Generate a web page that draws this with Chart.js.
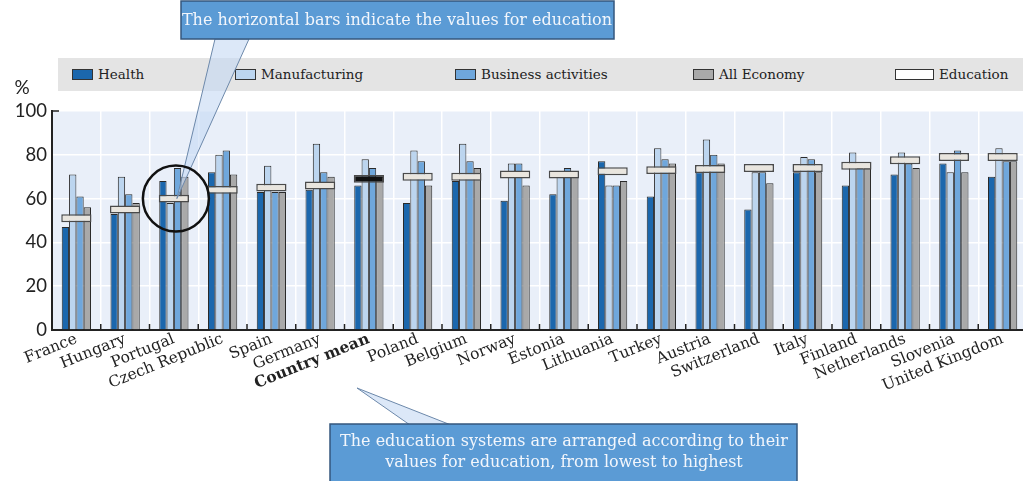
<!DOCTYPE html>
<html>
<head>
<meta charset="utf-8">
<script src="https://cdn.jsdelivr.net/npm/chart.js@4.4.1/dist/chart.umd.min.js"></script>
<style>
  html, body { margin: 0; padding: 0; background: #fff; overflow: hidden; }
  #wrap { position: relative; width: 1027px; height: 481px; }
  #legend { position: absolute; left: 58px; top: 58px; width: 969px; height: 33px; background: #e4e4e4; z-index: 0;
            font-family: "DejaVu Serif", serif; font-size: 13.5px; color: #222; }
  .item { position: absolute; top: 8px; white-space: nowrap; }
  .sw { display: inline-block; width: 19px; height: 9px; border: 1px solid #333; vertical-align: middle;
        margin-right: 5px; position: relative; top: -1px; }
  canvas { position: absolute; left: 0; top: 0; z-index: 1; }
</style>
</head>
<body>
<div id="wrap">
  <div id="legend"></div>
  <canvas id="chart" width="1027" height="481"></canvas>
</div>
<script>
// data, education systems sorted by education value
const categories = ["France", "Hungary", "Portugal", "Czech Republic", "Spain", "Germany", "Country mean",
  "Poland", "Belgium", "Norway", "Estonia", "Lithuania", "Turkey", "Austria", "Switzerland", "Italy",
  "Finland", "Netherlands", "Slovenia", "United Kingdom"];
const health        = [47, 53, 68, 72, 63, 64, 66, 58, 68, 59, 62, 77, 61, 72, 55, 72, 66, 71, 76, 70];
const manufacturing = [71, 70, 58, 80, 75, 85, 78, 82, 85, 76, 70, 66, 83, 87, 72, 79, 81, 81, 72, 83];
const business      = [61, 62, 74, 82, 63, 72, 74, 77, 77, 76, 74, 66, 78, 80, 72, 78, 74, 76, 82, 77];
const allEconomy    = [56, 58, 70, 71, 63, 70, 70, 66, 74, 66, 70, 68, 76, 76, 67, 72, 74, 74, 72, 77];
const education     = [51, 55, 60, 64, 65, 66, 69, 70, 70, 71, 71, 72.5, 73, 73.5, 74, 74, 75, 77.5, 79, 79];
const yTicks = [0, 20, 40, 60, 80, 100];

const seriesNames = ["Health", "Manufacturing", "Business activities", "All Economy"];
const seriesData = [health, manufacturing, business, allEconomy];
const seriesColors = ["#1b67ad", "#bcd5ef", "#6fa7dc", "#a9a9a9"];
const eduColor = "#e9e5de";
const eduHalf = 1.8; // half thickness of the education marker, in %

// html legend (sits under the canvas so the callout wedge can cross it)
const legendPos = [14, 177, 397, 635, 837];
const legend = document.getElementById("legend");
seriesNames.concat(["Education"]).forEach((name, i) => {
  const el = document.createElement("div");
  el.className = "item";
  el.style.left = legendPos[i] + "px";
  const sw = document.createElement("span");
  sw.className = "sw";
  sw.style.background = i < 4 ? seriesColors[i] : "#fff";
  if (i === 4) sw.style.width = "37px";
  el.appendChild(sw);
  el.appendChild(document.createTextNode(name));
  legend.appendChild(el);
});

const decor = {
  id: "decor",
  beforeDraw(chart) {
    const { ctx, chartArea: a } = chart;
    ctx.save();
    ctx.fillStyle = "#e9eff9";
    ctx.fillRect(a.left, a.top, a.right - a.left, a.bottom - a.top);
    ctx.restore();
  },
  afterDraw(chart) {
    const { ctx, chartArea: a, scales: { x, y } } = chart;
    ctx.save();
    // small tick marks between categories, pointing up
    ctx.strokeStyle = "#222";
    ctx.lineWidth = 1.5;
    for (let i = 1; i < categories.length; i++) {
      const px = (x.getPixelForValue(i - 1) + x.getPixelForValue(i)) / 2;
      ctx.beginPath();
      ctx.moveTo(px, a.bottom);
      ctx.lineTo(px, a.bottom - 6);
      ctx.stroke();
    }
    ctx.beginPath();
    ctx.moveTo(a.left, a.top);
    ctx.lineTo(a.left + 7, a.top);
    ctx.stroke();

    // % unit
    ctx.fillStyle = "#222";
    ctx.font = "19px Lato";
    ctx.textAlign = "center";
    ctx.textBaseline = "middle";
    ctx.fillText("%", 22, 88);

    // circle around Portugal
    const cx = x.getPixelForValue(2), cy = y.getPixelForValue(education[2]);

    // top callout wedge
    ctx.beginPath();
    ctx.moveTo(215, 39);
    ctx.lineTo(249, 39);
    ctx.lineTo(cx + 3, cy);
    ctx.closePath();
    ctx.fillStyle = "rgba(196,217,243,0.6)";
    ctx.fill();
    ctx.strokeStyle = "#6c88aa";
    ctx.lineWidth = 1;
    ctx.stroke();

    ctx.beginPath();
    ctx.arc(cx + 2, cy, 33, 0, Math.PI * 2);
    ctx.strokeStyle = "#111";
    ctx.lineWidth = 2.5;
    ctx.stroke();

    // top callout box
    ctx.fillStyle = "#5b9bd5";
    ctx.strokeStyle = "#34577d";
    ctx.lineWidth = 1.5;
    ctx.fillRect(181, 1, 433, 38);
    ctx.strokeRect(181, 1, 433, 38);
    ctx.fillStyle = "#f2f6fc";
    ctx.font = "16px 'DejaVu Serif'";
    ctx.fillText("The horizontal bars indicate the values for education", 397, 21);

    // bottom callout wedge
    ctx.beginPath();
    ctx.moveTo(410, 425);
    ctx.lineTo(451, 425);
    ctx.lineTo(357, 388);
    ctx.closePath();
    ctx.fillStyle = "rgba(196,217,243,0.6)";
    ctx.fill();
    ctx.strokeStyle = "#6c88aa";
    ctx.lineWidth = 1;
    ctx.stroke();

    // bottom callout box
    ctx.fillStyle = "#5b9bd5";
    ctx.strokeStyle = "#34577d";
    ctx.lineWidth = 1.5;
    ctx.fillRect(330, 424, 467, 62);
    ctx.strokeRect(330, 424, 467, 62);
    ctx.fillStyle = "#f2f6fc";
    ctx.font = "16px 'DejaVu Serif'";
    ctx.fillText("The education systems are arranged according to their", 564, 442);
    ctx.fillText("values for education, from lowest to highest", 564, 463);
    ctx.restore();
  }
};

const datasets = [{
  label: "Education",
  data: education.map(v => [v - eduHalf, v + eduHalf]),
  grouped: false,
  order: 0,
  categoryPercentage: 0.62,
  barPercentage: 1,
  backgroundColor: categories.map(c => c === "Country mean" ? "#111" : eduColor),
  borderColor: "#4a4a4a",
  borderWidth: 1.5,
  borderSkipped: false
}].concat(seriesNames.map((name, i) => ({
  label: name,
  data: seriesData[i],
  order: 1,
  categoryPercentage: 0.6,
  barPercentage: 1,
  backgroundColor: seriesColors[i],
  borderColor: "#2a2a2a",
  borderWidth: 1
})));

new Chart(document.getElementById("chart"), {
  type: "bar",
  data: { labels: categories, datasets: datasets },
  plugins: [decor],
  options: {
    responsive: false,
    animation: false,
    layout: { padding: { top: 111, left: 0, right: 0, bottom: 0 } },
    plugins: { legend: { display: false }, tooltip: { enabled: false } },
    scales: {
      x: {
        offset: true,
        grid: { offset: true, color: "#ffffff", lineWidth: 1.5, drawTicks: false },
        border: { color: "#222", width: 2 },
        ticks: {
          autoSkip: false, minRotation: 22, maxRotation: 22, padding: 0, color: "#222",
          font: ctx => ({ family: "DejaVu Serif", size: 15.5, weight: categories[ctx.index] === "Country mean" ? "bold" : "normal" })
        },
        afterFit(s) { s.height = 151; }
      },
      y: {
        min: 0, max: 100,
        afterBuildTicks(s) { s.ticks = yTicks.map(v => ({ value: v })); },
        grid: { color: "#ffffff", lineWidth: 1.5, drawTicks: false },
        border: { color: "#222", width: 2 },
        ticks: { color: "#222", font: { family: "Lato", size: 18.5 }, padding: 5 },
        afterFit(s) { s.width = 52; }
      }
    }
  }
});
</script>
</body>
</html>
